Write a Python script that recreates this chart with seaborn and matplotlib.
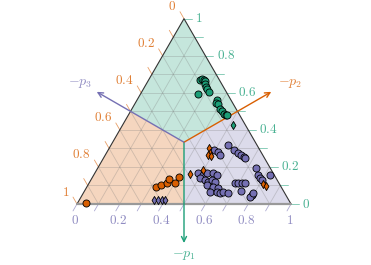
import numpy as np
import pandas as pd
import matplotlib
matplotlib.use("Agg")
import matplotlib.pyplot as plt
import seaborn as sns

sns.set_style("white")
plt.rcParams["mathtext.fontset"] = "cm"

# ternary data: p1 = top (green) vertex, p3 = bottom-right (purple) vertex, p2 = 1 - p1 - p3
green_p1 = [0.669, 0.672, 0.669, 0.664, 0.648, 0.634, 0.623, 0.607, 0.594, 0.561, 0.545,
            0.540, 0.515, 0.502, 0.486, 0.480, 0.478]
green_p3 = [0.240, 0.248, 0.259, 0.268, 0.274, 0.288, 0.298, 0.313, 0.268, 0.374, 0.377,
            0.389, 0.411, 0.427, 0.442, 0.456, 0.464]

purple_p1 = [0.318, 0.289, 0.275, 0.264, 0.255, 0.250, 0.289, 0.278, 0.264,
             0.169, 0.157, 0.166, 0.167, 0.157, 0.139, 0.130, 0.120, 0.130, 0.120,
             0.103, 0.093, 0.085, 0.066, 0.066, 0.061, 0.066, 0.058,
             0.112, 0.112, 0.112, 0.112, 0.072, 0.049, 0.039, 0.059,
             0.193, 0.157, 0.142, 0.130, 0.154]
purple_p3 = [0.548, 0.589, 0.617, 0.636, 0.652, 0.662, 0.498, 0.518, 0.534,
             0.479, 0.512, 0.523, 0.553, 0.574, 0.505, 0.533, 0.554, 0.564, 0.585,
             0.555, 0.590, 0.618, 0.588, 0.620, 0.638, 0.651, 0.678,
             0.682, 0.698, 0.714, 0.729, 0.730, 0.792, 0.789, 0.793,
             0.742, 0.767, 0.784, 0.798, 0.825]

orange_p1 = [0.004, 0.093, 0.104, 0.115, 0.135, 0.116, 0.147]
orange_p3 = [0.039, 0.324, 0.339, 0.363, 0.361, 0.400, 0.403]

# misclassified points (diamonds)
green_d_p1 = [0.426]
green_d_p3 = [0.517]
orange_d_p1 = [0.301, 0.277, 0.264, 0.259, 0.162, 0.183, 0.108, 0.097]
orange_d_p3 = [0.466, 0.483, 0.482, 0.497, 0.447, 0.499, 0.813, 0.835]
purple_d_p1 = [0.022, 0.022, 0.022, 0.022]
purple_d_p3 = [0.350, 0.369, 0.385, 0.400]

tick_values = [0.0, 0.2, 0.4, 0.6, 0.8, 1.0]

GREEN, ORANGE, PURPLE = "#1b9e77", "#d95f02", "#7570b3"
H = np.sqrt(3) / 2


def tern(p1, p3):
    p1 = np.asarray(p1, float)
    p3 = np.asarray(p3, float)
    return p3 + p1 / 2, p1 * H


fig = plt.figure(figsize=(3.71, 2.65), dpi=100)
ax = fig.add_axes([0, 0, 1, 1])

cen = (0.5, H / 3)
top, bl, br = (0.5, H), (0.0, 0.0), (1.0, 0.0)
mr, ml, mb = (0.75, H / 2), (0.25, H / 2), (0.5, 0.0)

for poly, c in [([top, mr, cen, ml], GREEN), ([bl, mb, cen, ml], ORANGE), ([br, mb, cen, mr], PURPLE)]:
    ax.add_patch(plt.Polygon(poly, closed=True, facecolor=c, alpha=0.25, edgecolor="none", zorder=1))

# grid
for v in np.arange(1, 10) / 10:
    kw = dict(color="#777777", lw=0.6, alpha=0.3, zorder=2)
    ax.plot([v / 2, 1 - v / 2], [v * H, v * H], **kw)
    ax.plot([v, v + (1 - v) / 2], [0, (1 - v) * H], **kw)
    ax.plot([1 - v, (1 - v) / 2], [0, (1 - v) * H], **kw)

# triangle edges
ax.plot([0, 0.5, 1], [0, H, 0], color="#333333", lw=0.8, zorder=3)
ax.plot([0, 1], [0, 0], color="#999999", lw=1.6, zorder=3)

# ticks
L = 8 / 214
for i in range(11):
    v = i / 10
    ax.plot([v, v - 0.5 * L], [0, -H * L], color=PURPLE, lw=0.6, alpha=0.6, zorder=2)
    bx, by = 1 - v / 2, v * H
    ax.plot([bx, bx + L], [by, by], color=GREEN, lw=0.6, alpha=0.6, zorder=2)
    ox, oy = (1 - v) / 2, (1 - v) * H
    ax.plot([ox, ox - 0.5 * L], [oy, oy + H * L], color=ORANGE, lw=0.6, alpha=0.6, zorder=2)

fs = 9.5
for v in tick_values:
    lab = f"${v:g}$"
    ax.text(v - 0.008, -0.075, lab, color=PURPLE, alpha=0.8, fontsize=fs, ha="center", va="center")
    ax.text(1 - v / 2 + 0.052, v * H, lab, color=GREEN, alpha=0.8, fontsize=fs, ha="left", va="center")
    ax.text((1 - v) / 2 - 0.037, (1 - v) * H + 0.056, lab, color=ORANGE, alpha=0.8, fontsize=fs,
            ha="right", va="center")

# arrows
alen = 0.471
for ang, c, lab, lpos in [(-90, GREEN, "$-p_1$", (0.5, -0.238)),
                          (30, ORANGE, "$-p_2$", (0.995, 0.565)),
                          (150, PURPLE, "$-p_3$", (0.015, 0.565))]:
    end = (cen[0] + alen * np.cos(np.radians(ang)), cen[1] + alen * np.sin(np.radians(ang)))
    ax.annotate("", xy=end, xytext=cen,
                arrowprops=dict(arrowstyle="->", color=c, lw=1.0, shrinkA=0, shrinkB=0,
                                mutation_scale=9), zorder=3)
    ax.text(lpos[0], lpos[1], lab, color=c, alpha=0.8, fontsize=10, ha="center", va="center")

# points
groups = [
    (green_p1, green_p3, GREEN, "o", 26),
    (purple_p1, purple_p3, PURPLE, "o", 26),
    (orange_p1, orange_p3, ORANGE, "o", 26),
    (green_d_p1, green_d_p3, GREEN, "d", 17),
    (orange_d_p1, orange_d_p3, ORANGE, "d", 17),
    (purple_d_p1, purple_d_p3, PURPLE, "d", 17),
]
for p1, p3, c, m, s in groups:
    x, y = tern(p1, p3)
    df = pd.DataFrame({"x": x, "y": y})
    sns.scatterplot(data=df, x="x", y="y", color=c, marker=m, s=s, edgecolor="black",
                    linewidth=0.6, ax=ax, zorder=4, legend=False)

ax.set_xlim(-77 / 214, (371 - 77) / 214)
ax.set_ylim(-61 / 214, 204 / 214)
ax.axis("off")
fig.savefig("out.png", dpi=100)
